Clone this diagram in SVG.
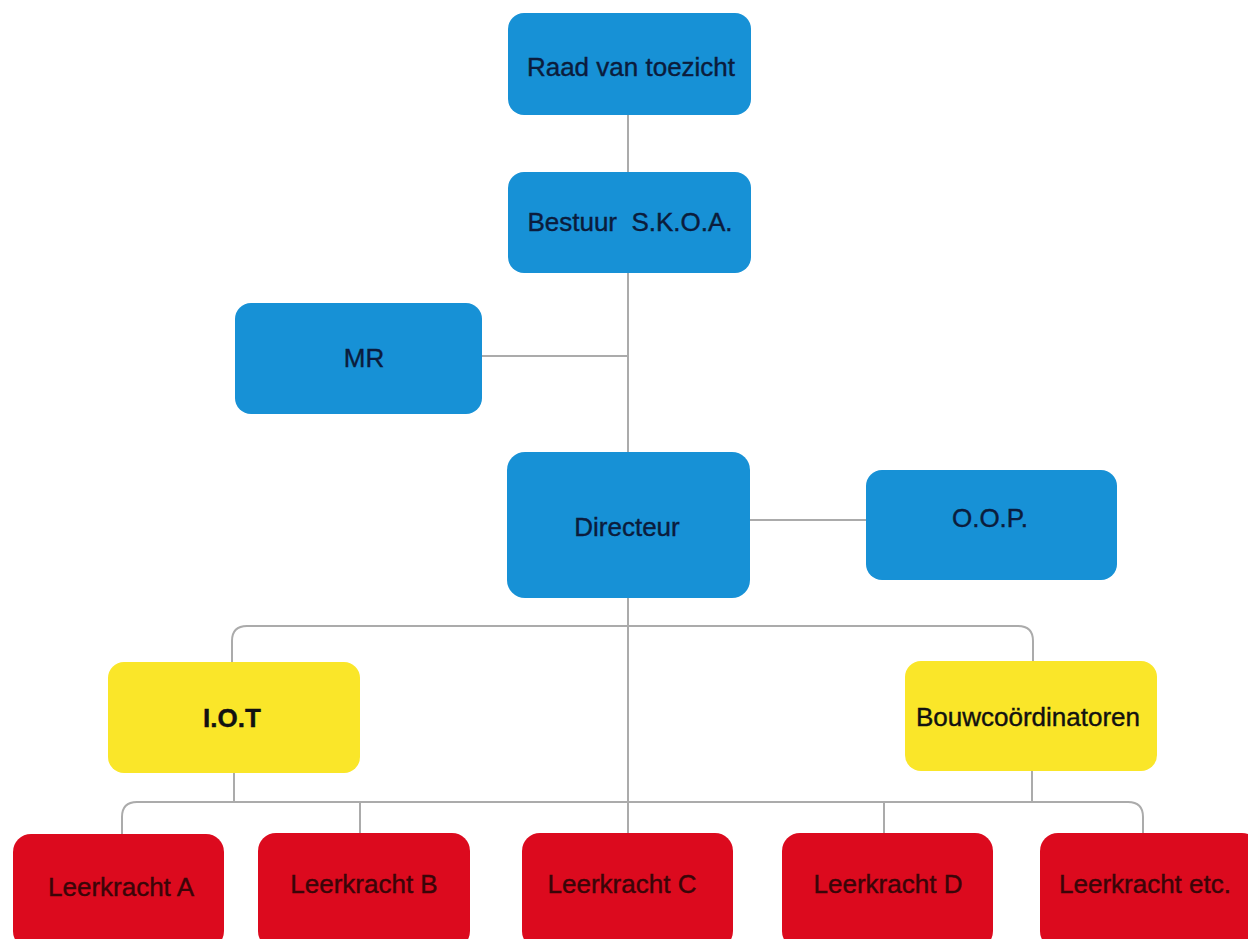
<svg xmlns="http://www.w3.org/2000/svg" width="1248" height="939" viewBox="0 0 1248 939">
<style>
.bg{fill:#ffffff}
.con{fill:none;stroke:#ababab;stroke-width:2}
.blue{fill:#1791d6}
.yellow{fill:#fae629}
.red{fill:#dc0a1e}
.t{font-family:"Liberation Sans",Arial,sans-serif;font-size:26px;text-anchor:middle;dominant-baseline:central;stroke-width:0.4}
.tb{fill:#0b1c3c;stroke:#0b1c3c}
.ty{fill:#111111;stroke:#111111}
.tr{fill:#3a0508;stroke:#3a0508}
</style>
<rect class="bg" x="0" y="0" width="1248" height="939"/>
<g id="connectors">
<line class="con" x1="628" y1="115" x2="628" y2="172"/>
<line class="con" x1="628" y1="273" x2="628" y2="452"/>
<line class="con" x1="482" y1="356" x2="628" y2="356"/>
<line class="con" x1="750" y1="520" x2="866" y2="520"/>
<line class="con" x1="628" y1="598" x2="628" y2="833"/>
<path class="con" d="M232,662 V641 Q232,626 247,626 H1018 Q1033,626 1033,641 V661"/>
<line class="con" x1="234" y1="773" x2="234" y2="802"/>
<line class="con" x1="1032" y1="771" x2="1032" y2="802"/>
<path class="con" d="M122,834 V817 Q122,802 137,802 H1128 Q1143,802 1143,817 V833"/>
<line class="con" x1="360" y1="802" x2="360" y2="833"/>
<line class="con" x1="884" y1="802" x2="884" y2="833"/>
</g>
<g id="raad">
<rect class="blue" x="508" y="13" width="243" height="102" rx="16"/>
<text class="t tb" x="631" y="67">Raad van toezicht</text>
</g>
<g id="bestuur">
<rect class="blue" x="508" y="172" width="243" height="101" rx="16"/>
<text class="t tb" x="630" y="222" xml:space="preserve">Bestuur  S.K.O.A.</text>
</g>
<g id="mr">
<rect class="blue" x="235" y="303" width="247" height="111" rx="16"/>
<text class="t tb" x="364" y="358">MR</text>
</g>
<g id="directeur">
<rect class="blue" x="507" y="452" width="243" height="146" rx="18"/>
<text class="t tb" x="627" y="527">Directeur</text>
</g>
<g id="oop">
<rect class="blue" x="866" y="470" width="251" height="110" rx="16"/>
<text class="t tb" x="990" y="518">O.O.P.</text>
</g>
<g id="iot">
<rect class="yellow" x="108" y="662" width="252" height="111" rx="16"/>
<text class="t ty" x="232" y="718" font-weight="bold">I.O.T</text>
</g>
<g id="bouw">
<rect class="yellow" x="905" y="661" width="252" height="110" rx="16"/>
<text class="t ty" x="1028" y="717">Bouwcoördinatoren</text>
</g>
<g id="leerkracht-a">
<rect class="red" x="13" y="834" width="211" height="115" rx="18"/>
<text class="t tr" x="121" y="887">Leerkracht A</text>
</g>
<g id="leerkracht-b">
<rect class="red" x="258" y="833" width="212" height="116" rx="18"/>
<text class="t tr" x="364" y="884">Leerkracht B</text>
</g>
<g id="leerkracht-c">
<rect class="red" x="522" y="833" width="211" height="116" rx="18"/>
<text class="t tr" x="622" y="884">Leerkracht C</text>
</g>
<g id="leerkracht-d">
<rect class="red" x="782" y="833" width="211" height="116" rx="18"/>
<text class="t tr" x="888" y="884">Leerkracht D</text>
</g>
<g id="leerkracht-etc">
<rect class="red" x="1040" y="833" width="220" height="116" rx="18"/>
<text class="t tr" x="1145" y="884">Leerkracht etc.</text>
</g>
</svg>
